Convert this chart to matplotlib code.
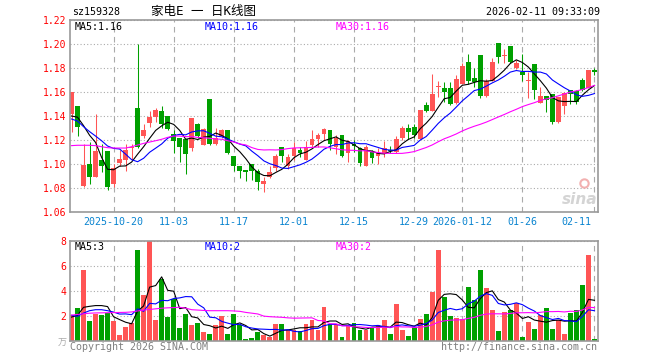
import matplotlib
matplotlib.use('Agg')
import matplotlib.pyplot as plt
import matplotlib.transforms as mtransforms
import numpy as np
import pandas as pd

plt.rcParams['font.family'] = ['DejaVu Sans Mono', 'Noto Sans CJK SC']

# 日K数据 (2025-10-09 ~ 2026-02-11)
opens = [1.142, 1.148, 1.082, 1.100, 1.089, 1.103, 1.111, 1.083, 1.101, 1.103,
         1.113, 1.147, 1.123, 1.134, 1.139, 1.144, 1.140, 1.125, 1.122, 1.121,
         1.113, 1.133, 1.116, 1.154, 1.117, 1.123, 1.128, 1.107, 1.098, 1.095,
         1.100, 1.094, 1.083, 1.089, 1.097, 1.114, 1.098, 1.107, 1.112, 1.103,
         1.116, 1.121, 1.125, 1.128, 1.114, 1.124, 1.109, 1.117, 1.113, 1.098,
         1.111, 1.107, 1.108, 1.112, 1.110, 1.122, 1.130, 1.131, 1.121, 1.149,
         1.144, 1.164, 1.163, 1.163, 1.151, 1.167, 1.185, 1.172, 1.191, 1.157,
         1.169, 1.201, 1.190, 1.198, 1.180, 1.177, 1.169, 1.183, 1.151, 1.157,
         1.158, 1.135, 1.148, 1.162, 1.161, 1.170, 1.163, 1.178]
highs = [1.160, 1.148, 1.117, 1.118, 1.142, 1.117, 1.111, 1.100, 1.112, 1.117,
         1.117, 1.200, 1.133, 1.144, 1.147, 1.148, 1.140, 1.128, 1.122, 1.121,
         1.138, 1.134, 1.130, 1.154, 1.130, 1.129, 1.128, 1.107, 1.098, 1.095,
         1.100, 1.096, 1.089, 1.098, 1.108, 1.114, 1.108, 1.118, 1.114, 1.119,
         1.128, 1.126, 1.130, 1.128, 1.124, 1.124, 1.120, 1.120, 1.114, 1.116,
         1.112, 1.113, 1.119, 1.115, 1.123, 1.132, 1.133, 1.133, 1.145, 1.152,
         1.175, 1.169, 1.168, 1.168, 1.174, 1.184, 1.192, 1.180, 1.191, 1.171,
         1.188, 1.201, 1.196, 1.198, 1.187, 1.192, 1.177, 1.183, 1.164, 1.157,
         1.158, 1.156, 1.160, 1.162, 1.162, 1.172, 1.178, 1.180]
lows = [1.127, 1.123, 1.081, 1.083, 1.089, 1.093, 1.078, 1.081, 1.098, 1.094,
        1.103, 1.113, 1.122, 1.131, 1.135, 1.130, 1.128, 1.109, 1.102, 1.092,
        1.111, 1.122, 1.116, 1.116, 1.116, 1.122, 1.108, 1.094, 1.088, 1.086,
        1.087, 1.078, 1.077, 1.088, 1.094, 1.102, 1.096, 1.103, 1.106, 1.103,
        1.114, 1.114, 1.120, 1.112, 1.108, 1.106, 1.102, 1.110, 1.098, 1.098,
        1.101, 1.100, 1.106, 1.109, 1.109, 1.120, 1.121, 1.122, 1.121, 1.143,
        1.144, 1.156, 1.152, 1.149, 1.150, 1.167, 1.167, 1.164, 1.155, 1.156,
        1.169, 1.184, 1.184, 1.184, 1.179, 1.169, 1.155, 1.154, 1.151, 1.143,
        1.133, 1.134, 1.142, 1.150, 1.150, 1.161, 1.163, 1.174]
closes = [1.160, 1.131, 1.099, 1.089, 1.111, 1.098, 1.081, 1.097, 1.104, 1.112,
          1.114, 1.114, 1.128, 1.139, 1.145, 1.133, 1.129, 1.119, 1.114, 1.108,
          1.138, 1.123, 1.129, 1.117, 1.122, 1.128, 1.109, 1.098, 1.094, 1.093,
          1.094, 1.085, 1.086, 1.093, 1.107, 1.107, 1.106, 1.113, 1.109, 1.114,
          1.121, 1.124, 1.129, 1.117, 1.122, 1.107, 1.119, 1.115, 1.101, 1.114,
          1.105, 1.109, 1.113, 1.111, 1.121, 1.130, 1.127, 1.124, 1.145, 1.144,
          1.158, 1.165, 1.160, 1.150, 1.171, 1.182, 1.169, 1.168, 1.157, 1.169,
          1.185, 1.189, 1.191, 1.185, 1.184, 1.174, 1.170, 1.162, 1.157, 1.153,
          1.135, 1.156, 1.159, 1.158, 1.152, 1.162, 1.178, 1.177]
# 成交量 (万)
volumes = [2.03, 2.61, 5.68, 1.60, 2.13, 2.03, 2.21, 1.60, 0.48, 1.07,
           1.41, 7.28, 3.68, 8.00, 1.68, 4.90, 1.89, 3.33, 1.01, 2.13,
           1.23, 1.41, 0.69, 0.53, 1.23, 1.95, 0.53, 2.13, 1.28, 0.16,
           0.21, 0.69, 0.48, 0.29, 1.33, 1.33, 0.88, 0.88, 0.75, 1.33,
           1.68, 0.88, 2.69, 1.30, 1.33, 0.29, 1.15, 1.41, 0.88, 0.88,
           1.07, 1.23, 1.68, 0.53, 2.93, 0.88, 0.40, 1.07, 1.76, 2.13,
           3.89, 7.28, 3.47, 2.00, 1.81, 1.76, 4.30, 3.28, 5.68, 4.21,
           2.48, 0.80, 2.29, 2.48, 3.01, 0.32, 1.49, 0.96, 2.03, 2.61,
           0.96, 1.68, 0.53, 2.21, 2.48, 4.48, 6.83, 0.16]

# 窗口开头的均线值 (之前的数据不在图中, 直接读取)
ma5_head = [1.140, 1.139, 1.132, 1.124]
ma10_head = [1.1375, 1.1358, 1.1311, 1.1270, 1.1233, 1.1194, 1.1150, 1.1130, 1.1125]
ma30_head = [1.1153, 1.1156, 1.1156, 1.1156, 1.1153, 1.1144, 1.1136, 1.1133, 1.1133, 1.1133,
             1.1144, 1.1158, 1.1172, 1.1183, 1.1194, 1.1206, 1.1222, 1.1233, 1.1233, 1.1228,
             1.1228, 1.1222, 1.1219, 1.1214, 1.1208, 1.1206, 1.1194, 1.1183, 1.1167]
vma5_head = [1.89, 2.03, 2.67, 2.75]
vma10_head = [2.03, 1.95, 2.21, 2.40, 2.48, 2.48, 2.40, 2.29, 2.13]
vma30_head = [2.05, 2.10, 2.15, 2.20, 2.22, 2.23, 2.24, 2.25, 2.26, 2.27,
              2.30, 2.38, 2.45, 2.50, 2.55, 2.60, 2.63, 2.65, 2.67, 2.60,
              2.48, 2.45, 2.42, 2.40, 2.40, 2.40, 2.40, 2.38, 2.35]

date_labels = ['2025-10-20', '11-03', '11-17', '12-01', '12-15',
               '12-29', '2026-01-12', '01-26', '02-11']
date_index = [7, 17, 27, 37, 47, 57, 65, 75, 87]

UP = '#ff5555'
DOWN = '#00a000'
GRID = '#aaaaaa'
W, H = 660, 360


def moving_avg(values, n, head):
    ma = pd.Series(values).rolling(n).mean().to_numpy()
    ma[:n - 1] = head
    return ma


def box(left, top, right, bottom):
    return [left / W, 1 - bottom / H, (right - left) / W, (bottom - top) / H]


def ftext(x, y, s, **kw):
    fig.text(x / W, 1 - y / H, s, va='center', **kw)


x = np.arange(len(closes))
o = np.array(opens)
c = np.array(closes)
colors = np.where(c >= o, UP, DOWN)

fig = plt.figure(figsize=(6.6, 3.6), dpi=100)
ax1 = fig.add_axes(box(70, 20, 597.5, 212))
ax2 = fig.add_axes(box(70, 240.7, 597.5, 340.7))

for ax in (ax1, ax2):
    ax.set_xlim(-0.25, 87.5)
    ax.set_xticks(date_index)
    ax.set_xticklabels([])
    ax.set_axisbelow(True)
    ax.grid(axis='x', linestyle=(0, (5, 4)), color=GRID, lw=0.8)
    ax.grid(axis='y', linestyle=(0, (1, 2)), color=GRID, lw=0.8)
    ax.tick_params(length=0, labelsize=7, labelcolor='red', pad=2.5)
    for sp in ax.spines.values():
        sp.set_color('#999999')
        sp.set_linewidth(1.2)

# K线
ax1.vlines(x, lows, highs, colors=colors, lw=0.75)
ax1.bar(x, np.maximum(np.abs(c - o), 0.0007), bottom=np.minimum(o, c),
        width=0.8, color=colors, lw=0)
ax1.plot(x, moving_avg(closes, 5, ma5_head), color='black', lw=0.8)
ax1.plot(x, moving_avg(closes, 10, ma10_head), color='#0000ff', lw=0.8)
ax1.plot(x, moving_avg(closes, 30, ma30_head), color='#ff00ff', lw=0.8)
ax1.set_ylim(1.06, 1.22)
yt = np.round(np.arange(1.06, 1.2201, 0.02), 2)
ax1.set_yticks(yt)
ax1.set_yticklabels([f'{v:.2f}' for v in yt])

trans = mtransforms.blended_transform_factory(ax1.transData, ax1.transAxes)
for i, lab in zip(date_index, date_labels):
    if lab == '02-11':
        ax1.text(i - 0.6, -0.052, lab, transform=trans, ha='right', va='center',
                 fontsize=7.2, color='#0a84d0')
    else:
        ax1.text(i, -0.052, lab, transform=trans, ha='center', va='center',
                 fontsize=7.2, color='#0a84d0')

# 新浪水印
ax1.text(0.967, 0.065, 'sina', transform=ax1.transAxes, ha='center', va='center',
         fontsize=11, weight='bold', style='italic', color='#d4d4d4', family='DejaVu Sans')
ax1.plot([0.975], [0.15], transform=ax1.transAxes, marker='o', ms=6,
         mfc='none', mec='#f2b0b0', mew=1.5)

# 成交量
ax2.bar(x, volumes, width=0.8, color=colors, lw=0)
ax2.plot(x, moving_avg(volumes, 5, vma5_head), color='black', lw=0.8)
ax2.plot(x, moving_avg(volumes, 10, vma10_head), color='#0000ff', lw=0.8)
ax2.plot(x, moving_avg(volumes, 30, vma30_head), color='#ff00ff', lw=0.8)
ax2.set_ylim(0, 8)
ax2.set_yticks([2, 4, 6, 8])
ax2.set_yticklabels(['2', '4', '6', '8'])

# 文字
ftext(72, 12, 'sz159328', fontsize=7.2)
ftext(151, 12, '家电E 一 日K线图', fontsize=9)
ftext(600, 12, '2026-02-11 09:33:09', fontsize=7.2, ha='right')
ftext(75, 27, 'MA5:1.16', fontsize=7.2, color='black')
ftext(205, 27, 'MA10:1.16', fontsize=7.2, color='#0000ff')
ftext(336, 27, 'MA30:1.16', fontsize=7.2, color='#ff00ff')
ftext(75, 247, 'MA5:3', fontsize=7.2, color='black')
ftext(205, 247, 'MA10:2', fontsize=7.2, color='#0000ff')
ftext(336, 247, 'MA30:2', fontsize=7.2, color='#ff00ff')
ftext(62, 343, '万', fontsize=6.5, color='#aaaaaa', ha='center')
ftext(70, 347, 'Copyright 2026 SINA.COM', fontsize=7.2, color='#808080')
ftext(597, 347, 'http://finance.sina.com.cn', fontsize=7.2, color='#808080', ha='right')

fig.savefig('out.png', dpi=100)
